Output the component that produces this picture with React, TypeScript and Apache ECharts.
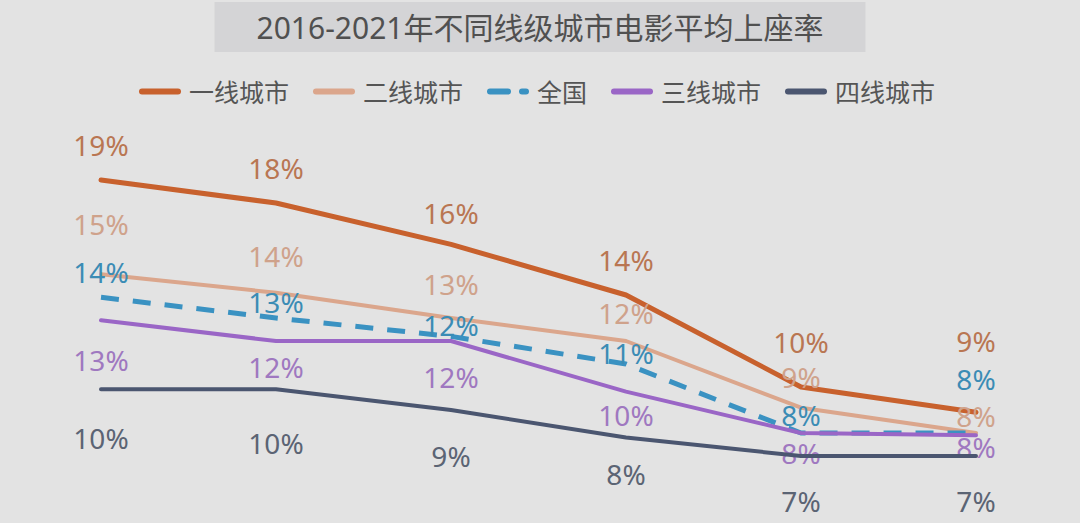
import React, { useEffect, useRef } from "react";
import * as echarts from "echarts";

const years = ["2016", "2017", "2018", "2019", "2020", "2021"];
const seriesNames = ["一线城市", "二线城市", "全国", "三线城市", "四线城市"];
const tier1 = [19.0, 18.0, 16.2, 14.0, 10.0, 8.9];
const tier2 = [14.9, 14.1, 13.0, 12.0, 9.1, 8.0];
const national = [13.9, 13.0, 12.2, 11.0, 8.0, 8.0];
const tier3 = [12.9, 12.0, 12.0, 9.8, 8.0, 7.9];
const tier4 = [9.9, 9.9, 9.0, 7.8, 7.0, 7.0];
const titleText = "2016-2021年不同线级城市电影平均上座率";

const seriesValues = [tier1, tier2, national, tier3, tier4];
const lineColors = ["#c8612d", "#dba68c", "#3a92c2", "#9a66c6", "#4b5670"];
const labelColors = ["#b97652", "#cfa28b", "#3b8cb5", "#9f78c0", "#5b6474"];
const lineWidths = [5, 4, 5, 4, 4];
// vertical label nudges (px) per point, to mimic the reference placement
const labelShift = [
  [-35, -35, -31, -35, -45, -71],
  [-50, -37, -34, -28, -31, -17],
  [-25, -16, -11, -11, -18, -54],
  [40, 26, 36, 23, 20, 12],
  [49, 54, 46, 36, 45, 45],
];

const FONT = "'Noto Sans', 'Noto Sans CJK SC', sans-serif";

export default function App() {
  const ref = useRef<HTMLDivElement>(null);
  useEffect(() => {
    document.body.style.margin = "0";
    const chart = echarts.init(ref.current!, undefined, { renderer: "svg" });
    const series = seriesNames.map((name, si) => ({
      name,
      type: "line",
      symbol: "circle",
      symbolSize: 0.01,
      showSymbol: true,
      smooth: false,
      z: 2 + si,
      lineStyle: {
        color: lineColors[si],
        width: lineWidths[si],
        type: si === 2 ? [18, 14] : "solid",
        cap: si === 2 ? "butt" : "round",
        join: "round",
      },
      itemStyle: { color: lineColors[si] },
      data: seriesValues[si].map((v, i) => ({
        value: v,
        label: { offset: [0, labelShift[si][i]] },
      })),
      label: {
        show: true,
        position: "inside",
        align: "center",
        verticalAlign: "middle",
        fontSize: 28,
        fontFamily: FONT,
        color: labelColors[si],
        formatter: (p: any) => Math.round(p.value) + "%",
      },
      emphasis: { disabled: true },
    }));
    chart.setOption({
      animation: false,
      backgroundColor: "#e3e3e3",
      title: {
        text: titleText,
        left: "center",
        top: 2,
        padding: [10, 42],
        backgroundColor: "#d4d4d6",
        textStyle: {
          fontSize: 30,
          lineHeight: 30,
          fontWeight: "normal",
          color: "#505050",
          fontFamily: FONT,
        },
      },
      legend: {
        left: 134,
        top: 74,
        itemWidth: 36,
        itemHeight: 14,
        itemGap: 24,
        itemStyle: { opacity: 0 },
        lineStyle: { width: 6, cap: "round" },
        textStyle: {
          fontSize: 25,
          color: "#555",
          fontFamily: FONT,
          padding: [0, 0, 0, 6],
        },
        data: seriesNames,
      },
      grid: { left: 101, right: 104, top: 157, bottom: 44 },
      xAxis: {
        type: "category",
        data: years,
        boundaryGap: false,
        show: false,
      },
      yAxis: {
        type: "value",
        min: 6,
        max: 20,
        show: false,
        splitLine: { show: false },
      },
      series,
    });
    return () => chart.dispose();
  }, []);
  return (
    <div
      ref={ref}
      style={{ position: "absolute", left: 0, top: 0, width: 1080, height: 523 }}
    />
  );
}
